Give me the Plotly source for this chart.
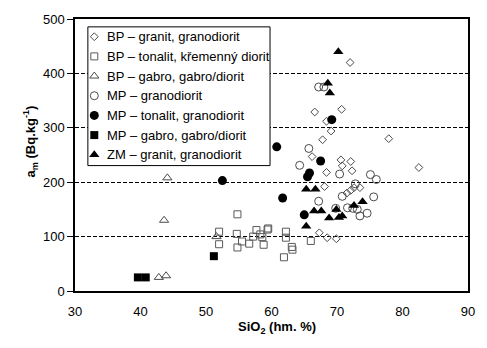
import plotly.graph_objects as go

# ---------------- data ----------------
series_names = [
    "BP – granit, granodiorit",
    "BP – tonalit, křemenný diorit",
    "BP – gabro, gabro/diorit",
    "MP – granodiorit",
    "MP – tonalit, granodiorit",
    "MP – gabro, gabro/diorit",
    "ZM – granit, granodiorit",
]

bp_granit_x = [72.0, 70.7, 66.6, 68.4, 69.1, 67.8, 77.9, 82.5, 66.2, 70.6, 72.1, 70.8, 72.3, 68.4,
               68.1, 71.5, 72.1, 72.6, 73.5, 67.3, 68.5, 69.9]
bp_granit_y = [420, 334, 329, 312, 294, 278, 280, 227, 247, 241, 238, 230, 221, 218,
               192, 180, 185, 190, 190, 107, 98, 96]

bp_tonalit_x = [52.0, 52.0, 54.8, 54.7, 54.8, 55.5, 56.6, 57.7, 57.2, 58.3, 58.6, 58.8, 59.4, 59.5,
                62.2, 62.2, 63.1, 63.2, 61.9, 66.0]
bp_tonalit_y = [109, 86, 141, 105, 80, 91, 87, 112, 100, 104, 99, 85, 113, 115,
                109, 98, 81, 76, 62, 92]

bp_gabro_x = [44.1, 43.6, 42.8, 43.9, 51.6]
bp_gabro_y = [208, 130, 25, 28, 100]

mp_granodiorit_x = [67.2, 68.0, 65.7, 64.3, 70.4, 75.1, 76.0, 72.8, 67.2, 70.8, 75.6, 71.6, 72.4,
                    73.1, 74.6, 73.5, 69.8]
mp_granodiorit_y = [375, 375, 262, 231, 215, 214, 205, 197, 165, 174, 173, 153, 152,
                    150, 143, 138, 152]

mp_tonalit_x = [52.5, 60.8, 61.7, 65.5, 65.8, 67.5, 69.2, 65.0]
mp_tonalit_y = [203, 265, 171, 210, 217, 239, 315, 140]

mp_gabro_x = [39.6, 40.8, 51.2]
mp_gabro_y = [25, 25, 64]

zm_granit_x = [70.2, 68.6, 68.9, 65.3, 66.7, 66.5, 67.6, 65.3, 68.8, 69.9, 70.3, 70.8, 72.6, 73.9]
zm_granit_y = [440, 382, 364, 187, 187, 147, 147, 119, 134, 150, 135, 138, 157, 164]

x_ticks = [30, 40, 50, 60, 70, 80, 90]
y_ticks = [0, 100, 200, 300, 400, 500]

# ---------------- styles ----------------
OPEN = "#4a4a4a"
styles = [
    dict(symbol="diamond-open", size=6, color=OPEN, line=dict(width=1, color=OPEN)),
    dict(symbol="square-open", size=7, color="#5a5a5a", line=dict(width=1, color="#5a5a5a")),
    dict(symbol="triangle-up-open", size=8, color=OPEN, line=dict(width=1, color=OPEN)),
    dict(symbol="circle-open", size=8, color=OPEN, line=dict(width=1, color=OPEN)),
    dict(symbol="circle", size=9, color="black", line=dict(width=0)),
    dict(symbol="square", size=8, color="black", line=dict(width=0)),
    dict(symbol="triangle-up", size=9, color="black", line=dict(width=0)),
]
data = [
    (bp_granit_x, bp_granit_y),
    (bp_tonalit_x, bp_tonalit_y),
    (bp_gabro_x, bp_gabro_y),
    (mp_granodiorit_x, mp_granodiorit_y),
    (mp_tonalit_x, mp_tonalit_y),
    (mp_gabro_x, mp_gabro_y),
    (zm_granit_x, zm_granit_y),
]

FONT = "Liberation Sans, Arial, sans-serif"
fig = go.Figure()
for name, (xs, ys), st in zip(series_names, data, styles):
    fig.add_trace(go.Scatter(x=xs, y=ys, mode="markers", name=name, marker=st,
                             showlegend=False, cliponaxis=False))

# ---------------- custom legend (layout) ----------------
L = 75.0; R = 472.0; T = 15.0; B = 291.5
W = 487; H = 348
pw = R - L; ph = B - T
def px_x(p): return (p - L) / pw
def px_y(p): return 1 - (p - T) / ph

leg_left, leg_right, leg_top, leg_bot = 88, 272, 23, 164
bx0, bx1, by0, by1 = px_x(leg_left), px_x(leg_right), px_y(leg_bot), px_y(leg_top)
fig.add_trace(go.Scatter(x=[bx0, bx1, bx1, bx0, bx0], y=[by0, by0, by1, by1, by0],
                         xaxis="x2", yaxis="y2", mode="lines", fill="toself",
                         fillcolor="white", line=dict(color="black", width=1),
                         showlegend=False, hoverinfo="skip"))
row0, step = 33, 20
sym_x, txt_x = 94.5, 105
for i, (name, st) in enumerate(zip(series_names, styles)):
    yy = px_y(row0 + i * step)
    fig.add_trace(go.Scatter(x=[px_x(sym_x)], y=[yy], xaxis="x2", yaxis="y2", mode="markers",
                             marker=st, showlegend=False, hoverinfo="skip", cliponaxis=False))
    fig.add_annotation(x=px_x(txt_x), y=yy, xref="paper", yref="paper", text=name,
                       showarrow=False, xanchor="left", yanchor="middle",
                       font=dict(family=FONT, size=13, color="black"))

# axis titles
fig.add_annotation(x=px_x(30), y=px_y(139), xref="paper", yref="paper",
                   text="<b>a<sub>m</sub> (Bq.kg<sup>-1</sup>)</b>", textangle=-90,
                   showarrow=False, xanchor="center", yanchor="middle",
                   font=dict(family=FONT, size=13, color="black"))
fig.add_annotation(x=px_x(279.5), y=px_y(329), xref="paper", yref="paper",
                   text="<b>SiO<sub>2</sub> (hm. %)</b>",
                   showarrow=False, xanchor="center", yanchor="middle",
                   font=dict(family=FONT, size=13, color="black"))

fig.update_layout(
    width=W, height=H,
    margin=dict(l=L, r=W - R, t=T, b=H - B, pad=0),
    paper_bgcolor="white", plot_bgcolor="white",
    font=dict(family=FONT, size=13, color="black"),
    showlegend=False,
    xaxis=dict(range=[30, 90], tickvals=x_ticks, showgrid=False, zeroline=False,
               showline=True, linecolor="black", linewidth=1.5, mirror=True,
               ticks="", ticklabelstandoff=8, tickfont=dict(size=13)),
    yaxis=dict(range=[0, 500], tickvals=y_ticks, showgrid=True, gridcolor="black",
               gridwidth=1, griddash="4px,2px", zeroline=False,
               showline=True, linecolor="black", linewidth=1.5, mirror=True,
               ticks="outside", ticklen=6, tickcolor="black", tickwidth=1,
               tickfont=dict(size=13)),
    xaxis2=dict(range=[0, 1], overlaying="x", visible=False, anchor="y2"),
    yaxis2=dict(range=[0, 1], overlaying="y", visible=False, anchor="x2"),
)

fig.write_html("out.html")
